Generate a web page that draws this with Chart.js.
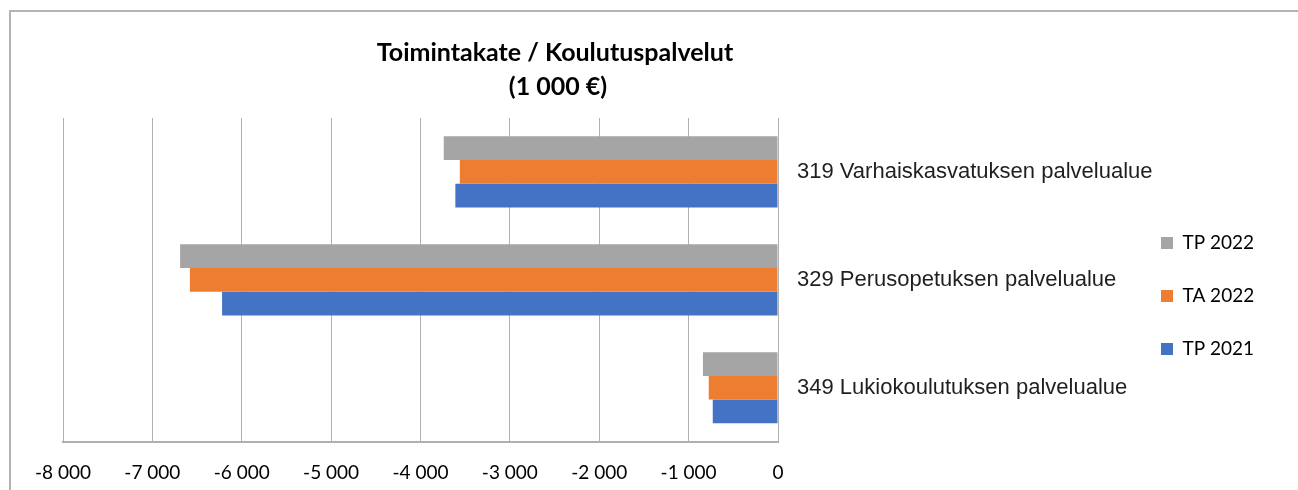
<!DOCTYPE html>
<html>
<head>
<meta charset="utf-8">
<script src="https://cdn.jsdelivr.net/npm/chart.js@4/dist/chart.umd.min.js"></script>
<style>
    body { margin: 0; background: #fff; }
    #frame {
        position: absolute; left: 9px; top: 10px; width: 1400px; height: 600px;
        border-left: 2px solid #b4b4b4; border-top: 2px solid #b4b4b4;
    }
    #wrap { position: absolute; left: 0; top: 0; width: 1298px; height: 490px; }
</style>
</head>
<body>
<div id="frame"></div>
<div id="wrap"><canvas id="chart"></canvas></div>
<script>
const titleLines = ["Toimintakate / Koulutuspalvelut", "(1 000 €)"];
const categories = [
    "319 Varhaiskasvatuksen palvelualue",
    "329 Perusopetuksen palvelualue",
    "349 Lukiokoulutuksen palvelualue"
];
const seriesNames = ["TP 2022", "TA 2022", "TP 2021"];
const tp2022 = [-3740, -6690, -840];
const ta2022 = [-3560, -6580, -775];
const tp2021 = [-3610, -6220, -730];
const xMin = -8000, xMax = 0, xStep = 1000;

const colors = ["#a5a5a5", "#ed7d31", "#4472c4"];

// thousands with a space, like the original: -8 000
const fmt = v => {
    const s = Math.abs(v).toString().replace(/\B(?=(\d{3})+(?!\d))/g, " ");
    return (v < 0 ? "-" : "") + s;
};

// title is centred over the plot + labels, not the whole canvas
const titlePlugin = {
    id: "sideTitle",
    afterDraw(chart) {
        const ctx = chart.ctx;
        ctx.save();
        ctx.font = "bold 25px Lato";
        ctx.fillStyle = "#000";
        ctx.textAlign = "center";
        ctx.textBaseline = "middle";
        ctx.fillText(titleLines[0], 555, 53);
        ctx.fillText(titleLines[1], 558, 87);
        ctx.restore();
    }
};

// the category labels run under the legend column in the original,
// so pull the legend box back over the end of the y axis
const legendShift = {
    id: "legendShift",
    afterLayout(chart) {
        const lg = chart.legend;
        if (!lg) return;
        lg.left -= 33; lg.right -= 33;
        lg.top -= 8; lg.bottom -= 8;
    }
};

const series = [tp2022, ta2022, tp2021];

new Chart(document.getElementById("chart"), {
    type: "bar",
    data: {
        labels: categories,
        datasets: series.map((d, i) => ({
            label: seriesNames[i],
            data: d,
            backgroundColor: colors[i],
            borderWidth: 0,
            categoryPercentage: 0.66,
            barPercentage: 1.0
        }))
    },
    options: {
        indexAxis: "y",
        responsive: true,
        maintainAspectRatio: false,
        animation: false,
        layout: { padding: { left: 63, top: 118, bottom: 0, right: 8 } },
        plugins: {
            title: { display: false },
            tooltip: { enabled: false },
            legend: {
                position: "right",
                maxWidth: 130,
                labels: {
                    boxWidth: 12,
                    boxHeight: 12,
                    padding: 34,
                    color: "#000",
                    font: { family: "Lato", size: 19 }
                }
            }
        },
        scales: {
            x: {
                min: xMin,
                max: xMax,
                afterFit: s => { s.height = 48.3; },
                ticks: {
                    stepSize: xStep,
                    padding: 20,
                    color: "#000",
                    font: { family: "Lato", size: 19 },
                    callback: v => fmt(v)
                },
                grid: { color: "#b0b0b0", lineWidth: 1, drawTicks: false },
                border: { display: true, color: "#b0b0b0", width: 2 }
            },
            y: {
                position: "right",
                afterFit: s => { s.width = 382; },
                ticks: {
                    padding: 19,
                    color: "#1f1f1f",
                    font: { family: "Liberation Sans", size: 22 }
                },
                grid: { display: false, drawTicks: false },
                border: { display: false }
            }
        }
    },
    plugins: [titlePlugin, legendShift]
});
</script>
</body>
</html>
